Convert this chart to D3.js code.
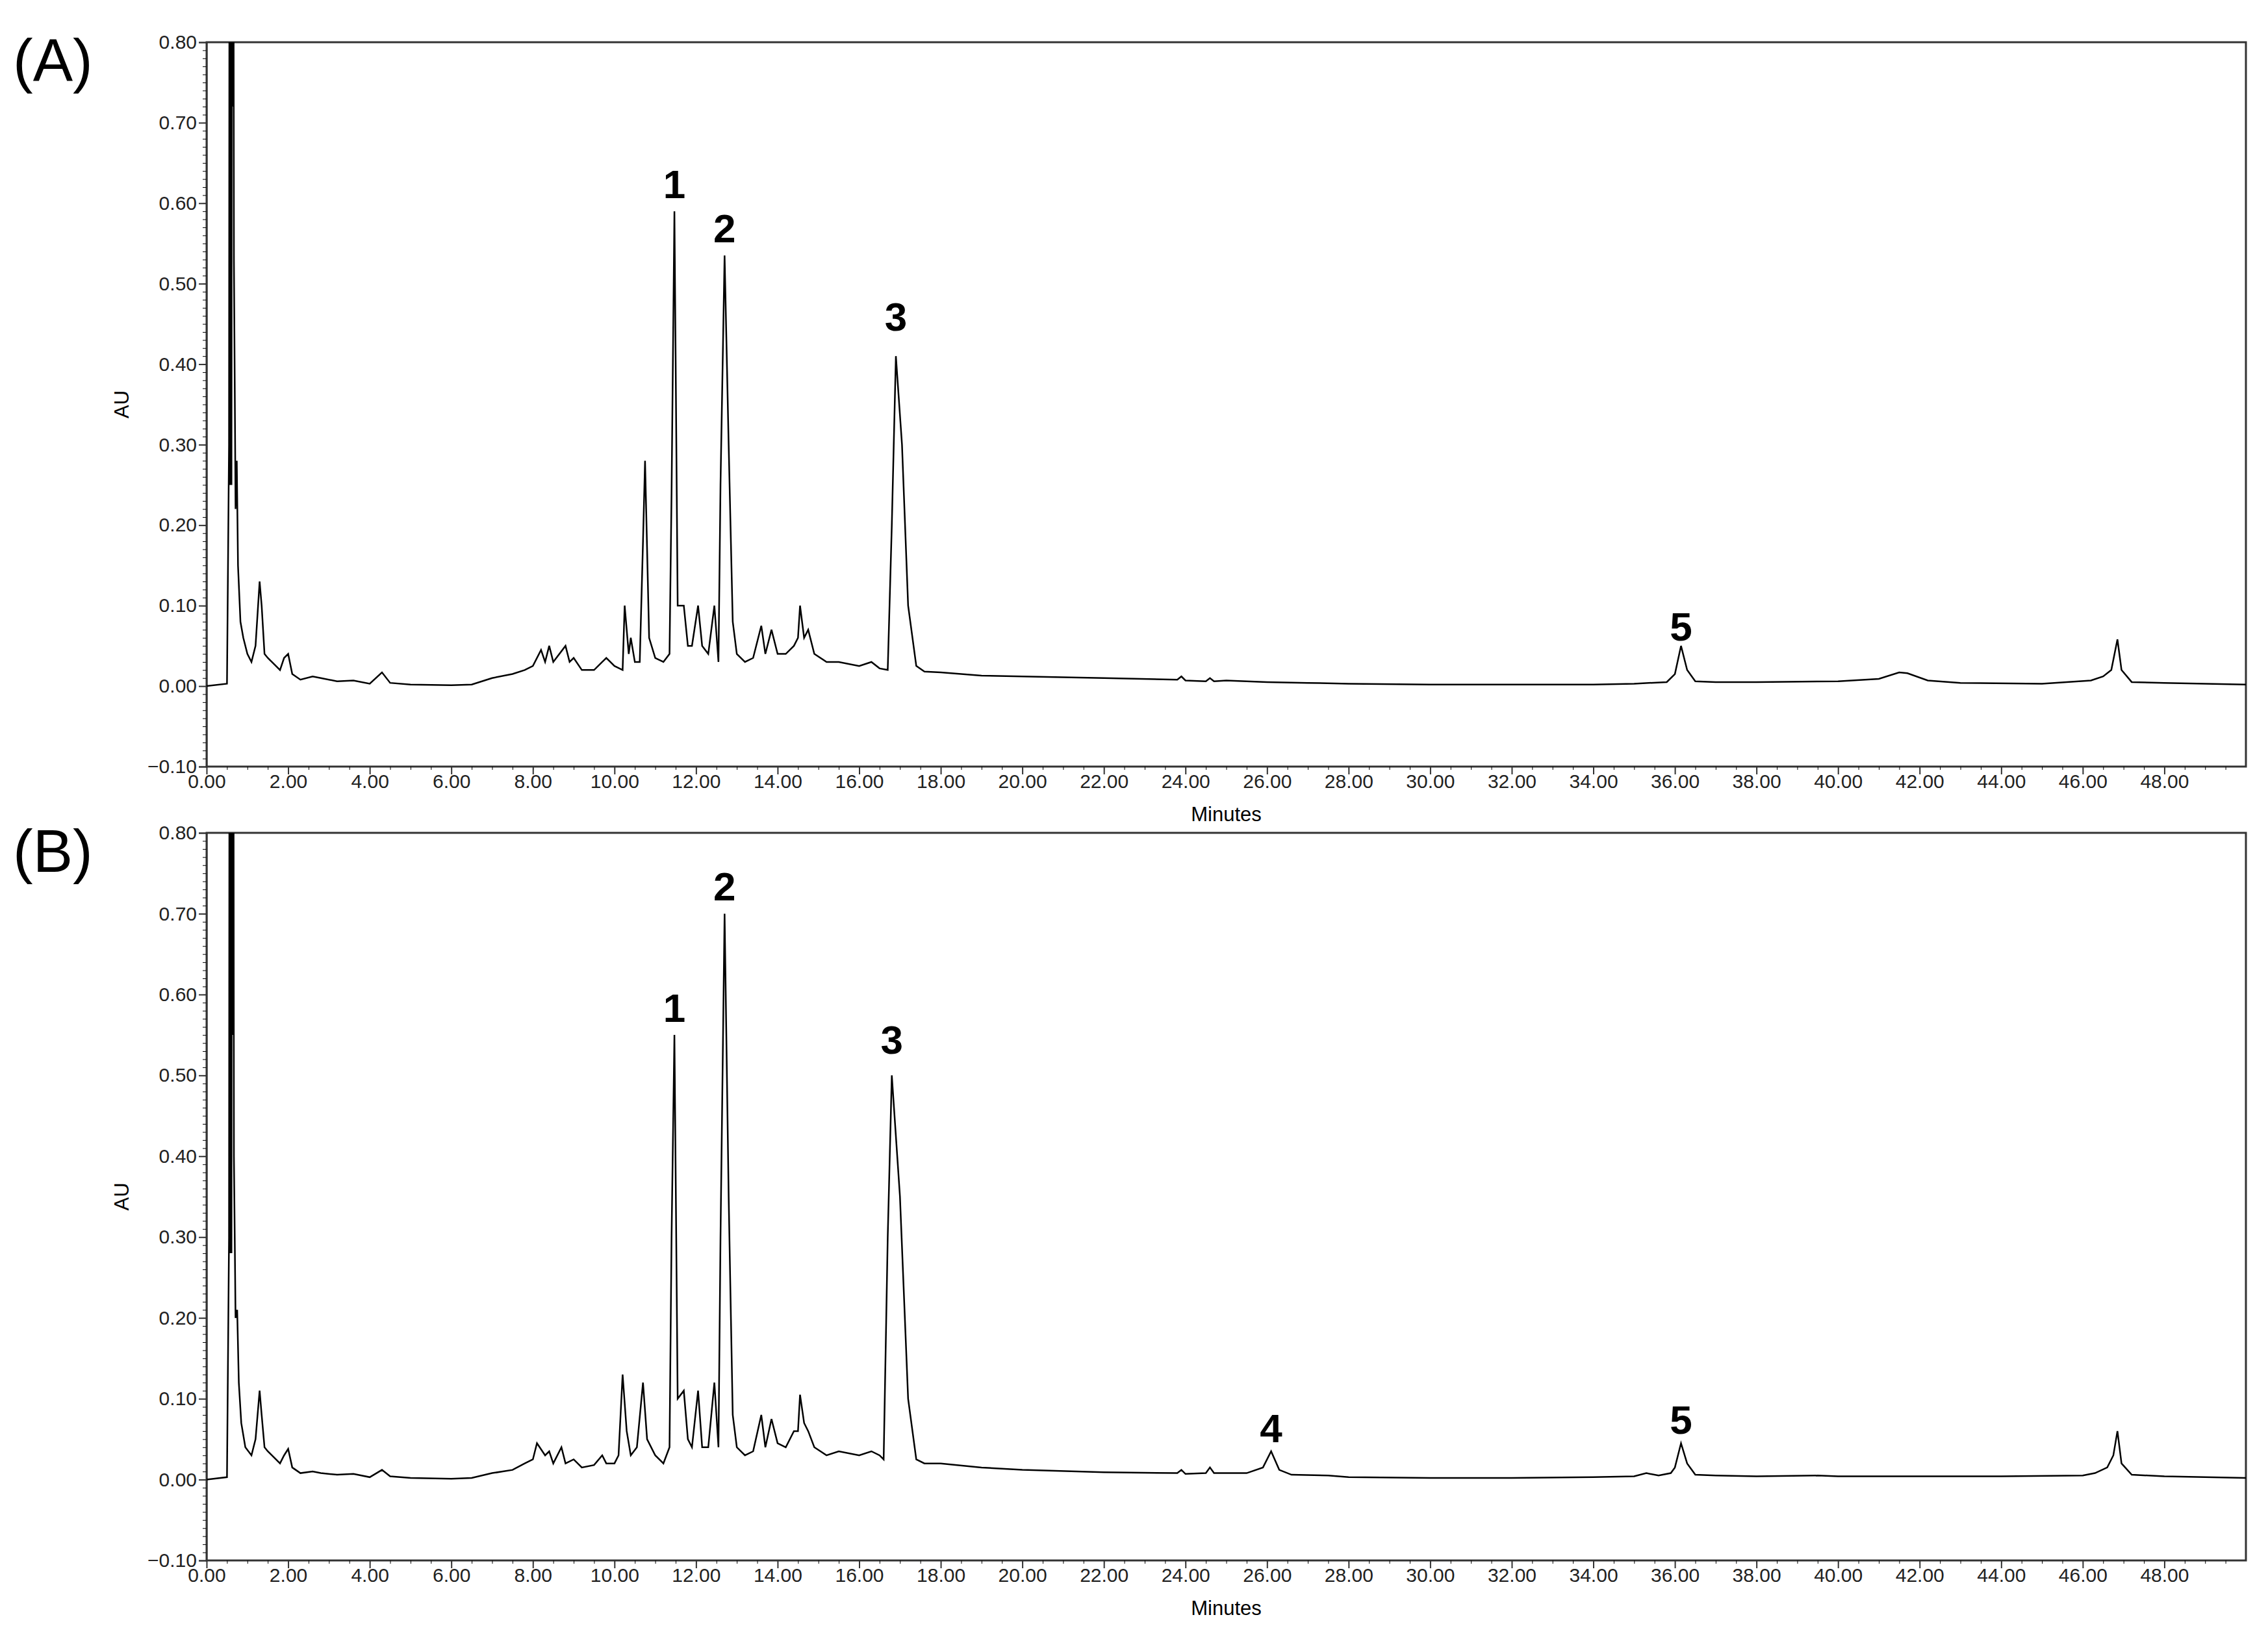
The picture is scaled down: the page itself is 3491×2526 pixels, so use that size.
<!DOCTYPE html>
<html>
<head>
<meta charset="utf-8">
<script src="https://cdn.jsdelivr.net/npm/d3@7"></script>
<style>
  body { margin: 0; background: #fff; }
  text { font-family: "Liberation Sans", Arial, sans-serif; }
</style>
</head>
<body>
<svg id="chart" width="3491" height="2526"></svg>
<script>
// chromatogram traces: [minutes, AU]
const traceA = [
  [0,0],[0.5,0.003],[0.55,0.3],[0.56,0.95],[0.57,0.25],[0.58,0.95],[0.59,0.25],[0.60,0.95],[0.61,0.25],
  [0.62,0.95],[0.63,0.72],[0.64,0.95],[0.65,0.72],[0.66,0.95],[0.67,0.53],
  [0.71,0.22],[0.74,0.28],[0.77,0.15],[0.83,0.08],[0.9,0.06],[1.0,0.04],[1.1,0.03],[1.2,0.05],[1.3,0.13],
  [1.35,0.1],[1.42,0.04],[1.5,0.035],[1.6,0.03],[1.7,0.025],[1.8,0.02],[1.9,0.035],[2.0,0.04],[2.1,0.015],
  [2.3,0.008],[2.6,0.012],[2.8,0.01],[3.2,0.006],[3.6,0.007],[4.0,0.003],[4.3,0.017],[4.5,0.004],[5.0,0.002],
  [6.0,0.001],[6.5,0.002],[7.0,0.01],[7.5,0.015],[7.8,0.02],[8.0,0.025],[8.2,0.045],[8.3,0.03],[8.4,0.05],
  [8.5,0.03],[8.8,0.05],[8.9,0.03],[9.0,0.035],[9.2,0.02],[9.5,0.02],[9.7,0.03],[9.8,0.035],[10.0,0.025],
  [10.2,0.02],[10.25,0.1],[10.35,0.04],[10.4,0.06],[10.5,0.03],[10.62,0.03],[10.7,0.18],[10.75,0.28],
  [10.85,0.06],[11.0,0.035],[11.2,0.03],[11.35,0.04],[11.4,0.24],[11.47,0.59],[11.55,0.1],[11.7,0.1],
  [11.8,0.05],[11.9,0.05],[12.05,0.1],[12.15,0.05],[12.3,0.04],[12.45,0.1],[12.55,0.03],[12.6,0.25],
  [12.7,0.535],[12.8,0.3],[12.9,0.08],[13.0,0.04],[13.2,0.03],[13.4,0.035],[13.6,0.075],[13.7,0.04],
  [13.85,0.07],[14.0,0.04],[14.2,0.04],[14.4,0.05],[14.5,0.06],[14.55,0.1],[14.65,0.06],[14.75,0.07],
  [14.9,0.04],[15.2,0.03],[15.5,0.03],[16.0,0.025],[16.3,0.03],[16.5,0.022],[16.7,0.02],[16.8,0.2],
  [16.9,0.41],[17.05,0.3],[17.2,0.1],[17.4,0.025],[17.6,0.018],[18,0.017],[19,0.013],[20,0.012],[22,0.01],
  [23.8,0.008],[23.9,0.012],[24,0.007],[24.5,0.006],[24.6,0.01],[24.7,0.006],[25,0.007],[26,0.005],
  [27,0.004],[28,0.003],[30,0.002],[32,0.002],[34,0.002],[35,0.003],[35.8,0.005],[36.0,0.015],
  [36.15,0.05],[36.3,0.02],[36.5,0.006],[37,0.005],[38,0.005],[40,0.006],[41,0.009],[41.5,0.017],
  [41.7,0.016],[42.2,0.007],[43,0.004],[45,0.003],[46.2,0.007],[46.5,0.012],[46.7,0.02],[46.85,0.058],
  [46.95,0.02],[47.2,0.005],[48,0.004],[50,0.002]
];
const traceB = [
  [0,0],[0.5,0.003],[0.55,0.3],[0.56,0.95],[0.57,0.28],[0.58,0.95],[0.59,0.28],[0.60,0.95],[0.61,0.28],
  [0.62,0.95],[0.63,0.55],[0.64,0.95],[0.65,0.55],[0.66,0.95],[0.67,0.4],
  [0.71,0.2],[0.75,0.21],[0.79,0.12],[0.85,0.07],[0.95,0.04],[1.1,0.03],[1.2,0.05],[1.3,0.11],
  [1.35,0.08],[1.42,0.04],[1.5,0.035],[1.6,0.03],[1.7,0.025],[1.8,0.02],[1.9,0.03],[2.0,0.038],[2.1,0.015],
  [2.3,0.008],[2.6,0.01],[2.8,0.008],[3.2,0.006],[3.6,0.007],[4.0,0.003],[4.3,0.012],[4.5,0.004],[5.0,0.002],
  [6.0,0.001],[6.5,0.002],[7.0,0.008],[7.5,0.012],[7.8,0.02],[8.0,0.025],[8.1,0.045],[8.3,0.03],[8.4,0.035],
  [8.5,0.02],[8.7,0.04],[8.8,0.02],[9.0,0.025],[9.2,0.015],[9.5,0.018],[9.7,0.03],[9.8,0.02],[10.0,0.02],
  [10.1,0.03],[10.2,0.13],[10.3,0.06],[10.4,0.03],[10.55,0.04],[10.7,0.12],[10.8,0.05],[11.0,0.03],
  [11.2,0.02],[11.35,0.04],[11.4,0.3],[11.47,0.55],[11.55,0.1],[11.7,0.11],[11.8,0.05],[11.9,0.04],
  [12.05,0.11],[12.15,0.04],[12.3,0.04],[12.45,0.12],[12.55,0.04],[12.6,0.3],[12.7,0.70],[12.8,0.35],
  [12.9,0.08],[13.0,0.04],[13.2,0.03],[13.4,0.035],[13.6,0.08],[13.7,0.04],[13.85,0.075],[14.0,0.045],
  [14.2,0.04],[14.4,0.06],[14.5,0.06],[14.55,0.105],[14.65,0.07],[14.75,0.06],[14.9,0.04],[15.2,0.03],
  [15.5,0.035],[16.0,0.03],[16.3,0.035],[16.5,0.03],[16.6,0.025],[16.7,0.3],[16.8,0.50],[17.0,0.35],
  [17.2,0.1],[17.4,0.025],[17.6,0.02],[18,0.02],[19,0.015],[20,0.012],[22,0.009],[23.8,0.008],
  [23.9,0.012],[24,0.007],[24.5,0.008],[24.6,0.015],[24.7,0.008],[25.5,0.008],[25.9,0.015],[26.1,0.035],
  [26.3,0.012],[26.6,0.006],[27.5,0.005],[28,0.003],[30,0.002],[32,0.002],[34,0.003],[35,0.004],
  [35.3,0.008],[35.6,0.005],[35.9,0.008],[36.0,0.015],[36.15,0.045],[36.3,0.02],[36.5,0.006],[37,0.005],
  [38,0.004],[39.5,0.005],[40,0.004],[42,0.004],[44,0.004],[46,0.005],[46.3,0.008],[46.6,0.015],
  [46.75,0.03],[46.85,0.06],[46.95,0.02],[47.2,0.006],[48,0.004],[50,0.002]
];
// peak labels: [label, minutes, AU at label baseline]
const labelsA = [["1",11.47,0.6],["2",12.7,0.545],["3",16.9,0.435],["5",36.15,0.05]];
const labelsB = [["1",11.47,0.56],["2",12.7,0.71],["3",16.8,0.52],["4",26.1,0.04],["5",36.15,0.05]];
const yTicks = [-0.10,0.00,0.10,0.20,0.30,0.40,0.50,0.60,0.70,0.80];
const xTicks = d3.range(0, 49, 2);

const svg = d3.select("#chart");
const left = 318, right = 3457;

function drawPanel(trace, labels, top, bottom, tag, id) {
  const x = d3.scaleLinear().domain([0, 50]).range([left, right]);
  const y = d3.scaleLinear().domain([-0.10, 0.80]).range([bottom, top]);
  const g = svg.append("g");

  g.append("clipPath").attr("id", id).append("rect")
    .attr("x", left).attr("y", top).attr("width", right - left).attr("height", bottom - top);

  // frame
  g.append("rect").attr("x", left).attr("y", top).attr("width", right - left).attr("height", bottom - top)
    .attr("fill", "none").attr("stroke", "#333").attr("stroke-width", 3);

  // minor ticks
  g.append("g").attr("transform", `translate(${left},0)`)
    .call(d3.axisLeft(y).tickValues(d3.range(-10, 81).map(d => d / 100)).tickSize(6).tickFormat(""))
    .call(a => a.select(".domain").remove());
  g.append("g").attr("transform", `translate(0,${bottom})`)
    .call(d3.axisBottom(x).tickValues(d3.range(0, 50, 0.5)).tickSize(5).tickFormat(""))
    .call(a => a.select(".domain").remove());

  // major ticks with labels
  const ya = g.append("g").attr("transform", `translate(${left},0)`)
    .call(d3.axisLeft(y).tickValues(yTicks).tickSize(12).tickFormat(d3.format(".2f")));
  ya.selectAll("text").attr("font-size", 30).attr("fill", "#222");
  ya.selectAll("line,path").attr("stroke", "#333").attr("stroke-width", 2);
  const xa = g.append("g").attr("transform", `translate(0,${bottom})`)
    .call(d3.axisBottom(x).tickValues(xTicks).tickSize(12).tickFormat(d3.format(".2f")));
  xa.selectAll("text").attr("font-size", 30).attr("fill", "#222").attr("dy", "0.6em");
  xa.select(".domain").remove();
  xa.selectAll("line").attr("stroke", "#333").attr("stroke-width", 2);

  // trace
  const line = d3.line().x(d => x(d[0])).y(d => y(d[1]));
  g.append("path").datum(trace).attr("clip-path", `url(#${id})`)
    .attr("d", line).attr("fill", "none").attr("stroke", "#000").attr("stroke-width", 2.5);

  g.selectAll(".pk").data(labels).join("text")
    .attr("x", d => x(d[1])).attr("y", d => y(d[2]) - 8)
    .attr("text-anchor", "middle").attr("font-size", 62).attr("font-weight", "bold")
    .attr("font-family", "Noto Sans, sans-serif").text(d => d[0]);

  g.append("text").attr("x", (left + right) / 2).attr("y", bottom + 84)
    .attr("text-anchor", "middle").attr("font-size", 31).text("Minutes");
  g.append("text").attr("transform", `translate(198,${y(0.35)}) rotate(-90)`)
    .attr("text-anchor", "middle").attr("font-size", 31).text("AU");
  g.append("text").attr("x", 20).attr("y", top + 60)
    .attr("font-size", 92).attr("font-family", "Noto Sans, sans-serif").text(tag);
}

drawPanel(traceA, labelsA, 65, 1180, "(A)", "clipA");
drawPanel(traceB, labelsB, 1282, 2402, "(B)", "clipB");
</script>
</body>
</html>
